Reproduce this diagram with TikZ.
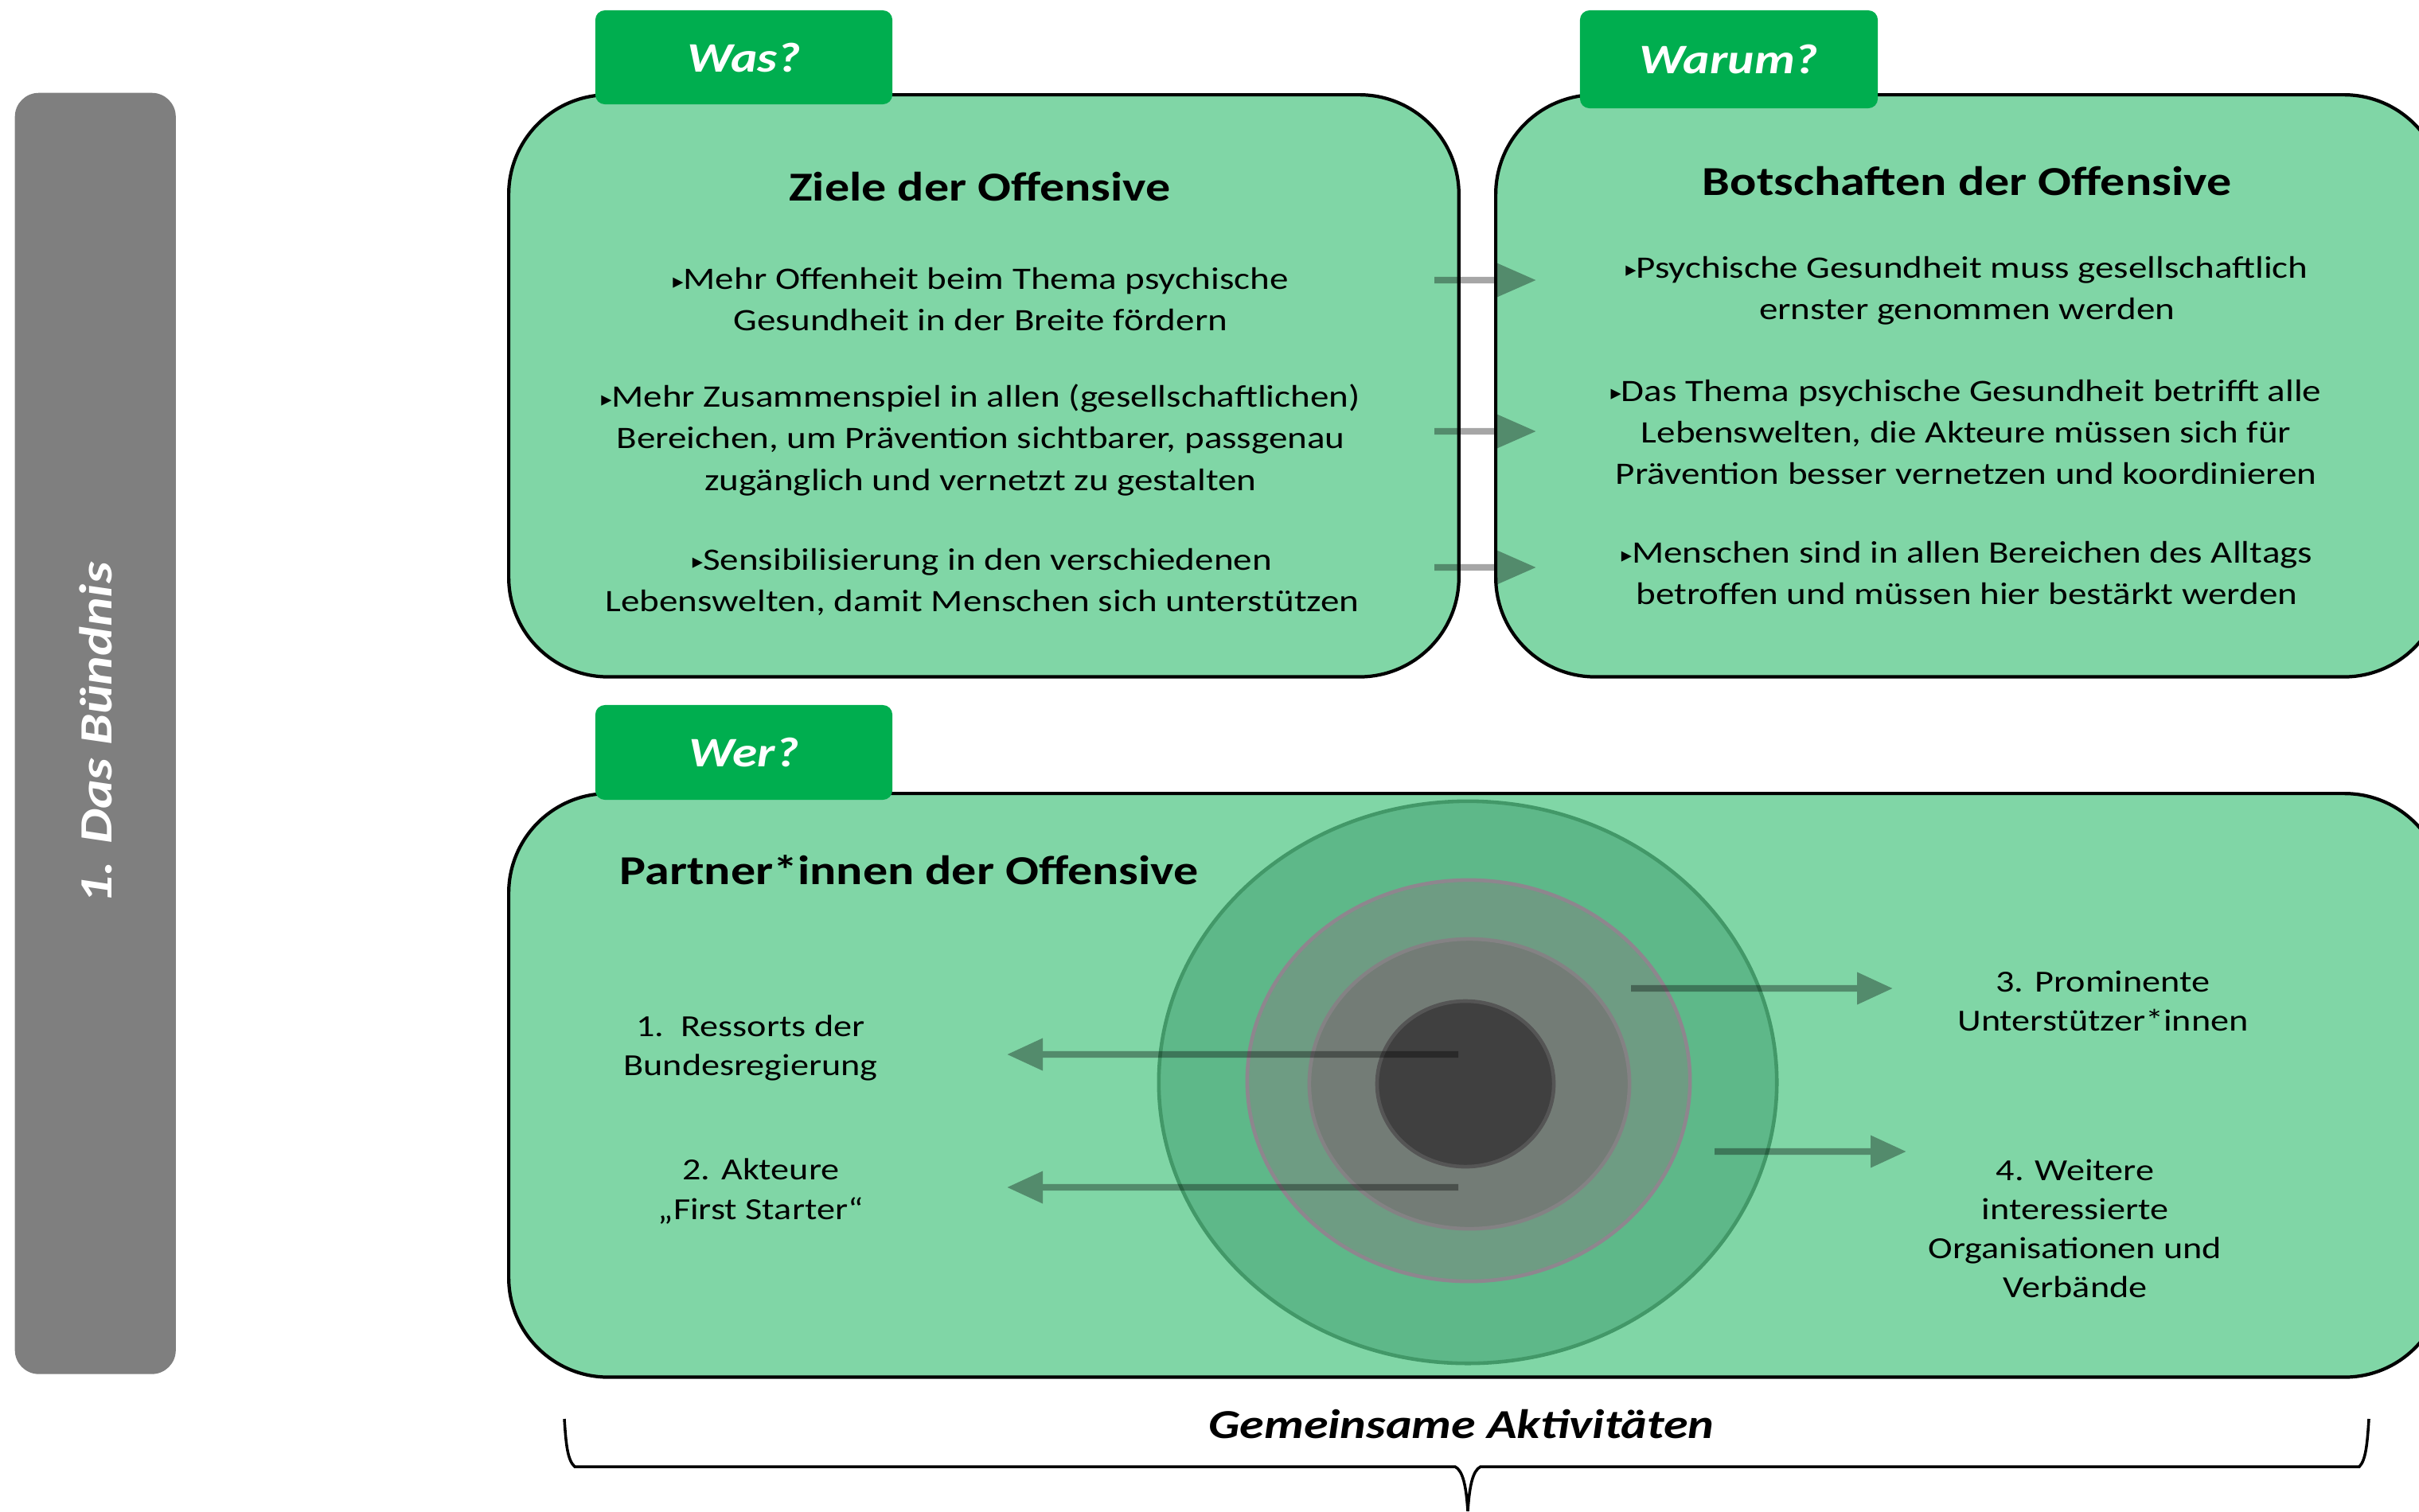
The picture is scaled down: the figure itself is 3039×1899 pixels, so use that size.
\documentclass[tikz,border=0pt]{standalone}
\usepackage{fontspec}
\setmainfont{Carlito}[FakeStretch=1.2]
\newfontfamily\symf{DejaVu Sans}
\usetikzlibrary{arrows.meta,shapes.geometric}
\definecolor{boxgreen}{RGB}{128,214,166}
\definecolor{tabgreen}{RGB}{0,174,79}
\definecolor{bargray}{RGB}{127,127,127}
\definecolor{ringA}{RGB}{94,184,137}
\definecolor{ringAb}{RGB}{66,152,104}
\definecolor{ringB}{RGB}{110,156,131}
\definecolor{ringBb}{RGB}{142,134,142}
\definecolor{ringC}{RGB}{115,124,118}
\definecolor{ringCb}{RGB}{132,130,132}
\definecolor{ringD}{RGB}{64,64,64}
\definecolor{ringDb}{RGB}{85,85,85}
\newcommand{\bul}{{\symf\fontsize{7.5}{7.5}\selectfont\raisebox{0.1ex}{▸}}}
\begin{document}
\begin{tikzpicture}[x=0.01cm,y=-0.01cm,
  panel/.style={draw=black,line width=1.2pt,fill=boxgreen,rounded corners=1.25cm,anchor=north west,inner sep=0},
  tabbox/.style={fill=tabgreen,rounded corners=0.12cm,text=white,inner sep=0,
     font=\bfseries\itshape\fontsize{15}{18}\selectfont},
  ttl/.style={font=\bfseries\fontsize{14.7}{18}\selectfont,inner sep=0},
  body/.style={align=center,font=\fontsize{11.15}{14.8}\selectfont,inner sep=0},
  lbl/.style={align=center,font=\fontsize{10.95}{14}\selectfont,inner sep=0},
  ring/.style={ellipse,inner sep=0,line width=1.3pt},
  flowtop/.style={line width=2.3pt,-{Triangle[length=14pt,width=11.5pt]}},
  flowbot/.style={line width=2.3pt,-{Triangle[length=12.8pt,width=11pt]}}]
\clip (0,0) rectangle (3039,1899);
\useasboundingbox (0,0) rectangle (3039,1899);

% side bar
\node[fill=bargray,rounded corners=0.3cm,anchor=north west,inner sep=0,
  minimum width=2.02cm,minimum height=16.09cm] (bar) at (18,116) {};
\node[rotate=90,text=white,font=\bfseries\itshape\fontsize{16.5}{19}\selectfont] (bartxt) at (120,921) {1. Das Bündnis};

% panels
\node[panel,minimum width=11.93cm,minimum height=7.31cm] (ziele) at (637,117) {};
\node[panel,minimum width=11.90cm,minimum height=7.31cm] (botsch) at (1877,117) {};
\node[panel,minimum width=24.30cm,minimum height=7.33cm] (partner) at (637,995) {};

% rings
\node[ring,fill=ringA,draw=ringAb,minimum width=7.76cm,minimum height=7.06cm] (r1) at (1844,1360) {};
\node[ring,fill=ringB,draw=ringBb,minimum width=5.56cm,minimum height=5.04cm] (r2) at (1845,1358) {};
\node[ring,fill=ringC,draw=ringCb,minimum width=4.02cm,minimum height=3.64cm] (r3) at (1846,1362) {};
\node[ring,fill=ringD,draw=ringDb,minimum width=2.22cm,minimum height=2.08cm] (r4) at (1841,1362) {};

% tabs
\node[tabbox,minimum width=3.73cm,minimum height=1.18cm] (was) at (934.5,72) {Was?};
\node[tabbox,minimum width=3.74cm,minimum height=1.23cm] (warum) at (2172,74.5) {Warum?};
\node[tabbox,minimum width=3.73cm,minimum height=1.19cm] (wer) at (934.5,945.5) {Wer?};

% titles
\node[ttl] (t1) at (1231,235) {Ziele der Offensive};
\node[ttl] (t2) at (2471,228) {Botschaften der Offensive};
\node[ttl,anchor=west] (t3) at (778,1093) {Partner*innen der Offensive};

% Ziele
\node[body] (z1) at (1232,376) {\bul Mehr Offenheit beim Thema psychische\\Gesundheit in der Breite fördern};
\node[body] (z2) at (1232,553) {\bul Mehr Zusammenspiel in allen (gesellschaftlichen)\\Bereichen, um Prävention sichtbarer, passgenau\\zugänglich und vernetzt zu gestalten};
\node[body] (z3) at (1234,731) {\bul Sensibilisierung in den verschiedenen\\Lebenswelten, damit Menschen sich unterstützen};

% Botschaften
\node[body] (b1) at (2471,365) {\bul Psychische Gesundheit muss gesellschaftlich\\ernster genommen werden};
\node[body] (b2) at (2470,543) {\bul Das Thema psychische Gesundheit betrifft alle\\Lebenswelten, die Akteure müssen sich für\\Prävention besser vernetzen und koordinieren};
\node[body] (b3) at (2471,720) {\bul Menschen sind in allen Bereichen des Alltags\\betroffen und müssen hier bestärkt werden};

% partner labels
\node[lbl] (p1) at (943,1317) {1.\ \ Ressorts der\\Bundesregierung};
\node[lbl] (p2) at (956,1497) {2. Akteure\\„First Starter“};
\node[lbl] (p3) at (2642,1258) {3. Prominente\\Unterstützer*innen};
\node[lbl] (p4) at (2607,1544) {4. Weitere\\interessierte\\Organisationen und\\Verbände};

% arrow end points
\coordinate (a1s) at (1802,352); \coordinate (a1e) at (1930,352);
\coordinate (a2s) at (1802,542); \coordinate (a2e) at (1930,542);
\coordinate (a3s) at (1802,713); \coordinate (a3e) at (1930,713);
\coordinate (c1s) at (1832,1325); \coordinate (c1e) at (1265,1325);
\coordinate (c2s) at (1832,1492); \coordinate (c2e) at (1265,1492);
\coordinate (c3s) at (2049,1242); \coordinate (c3e) at (2378,1242);
\coordinate (c4s) at (2154,1447); \coordinate (c4e) at (2395,1447);

\begin{scope}[transparency group,opacity=0.35]
\draw[flowtop] (a1s) -- (a1e);
\draw[flowtop] (a2s) -- (a2e);
\draw[flowtop] (a3s) -- (a3e);
\draw[flowbot] (c1s) -- (c1e);
\draw[flowbot] (c2s) -- (c2e);
\draw[flowbot] (c3s) -- (c3e);
\draw[flowbot] (c4s) -- (c4e);
\end{scope}

% brace
\draw[line width=1pt] (709,1783) .. controls (711,1815) and (713,1835) .. (722,1843)
  -- (1828,1843) .. controls (1838,1848) and (1842,1868) .. (1844,1899);
\draw[line width=1pt] (2976,1783) .. controls (2974,1815) and (2972,1835) .. (2964,1843)
  -- (1860,1843) .. controls (1850,1848) and (1846,1868) .. (1844,1899);
\node[font=\bfseries\itshape\fontsize{14.7}{17}\selectfont] (gem) at (1836,1790) {Gemeinsame Aktivitäten};
\end{tikzpicture}
\end{document}
